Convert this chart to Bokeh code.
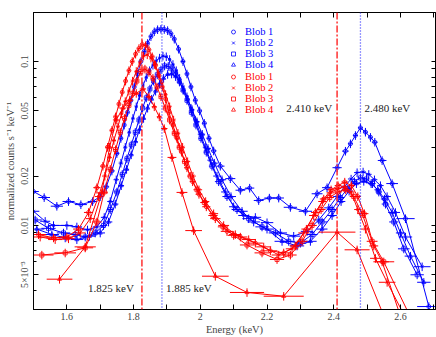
import numpy as np
from bokeh.plotting import figure
from bokeh.models import (Range1d, FixedTicker, LinearAxis, LogAxis, Span, Label,
                          Legend, LegendItem)
from bokeh.embed import file_html
from bokeh.resources import INLINE

# ---------------- data ----------------
series_names = ["Blob 1", "Blob 2", "Blob 3", "Blob 4"]

# blue spectra
blue_e1 = [1.500,1.532,1.570,1.605,1.642,1.677,1.700,1.718,1.735,1.750,1.762,1.772,1.782,1.792,1.802,1.812,1.822,1.832,1.842,1.852,1.862,1.872,1.882,1.892,1.902,1.912,1.922,1.935,1.948,1.960,1.972,1.985,1.998,2.012,2.026,2.040,2.060,2.090,2.120,2.148,2.175,2.207,2.235,2.270,2.315,2.350,2.380,2.410,2.435,2.450,2.465,2.480,2.495,2.510,2.523,2.545,2.575,2.615,2.685]
blue_f1 = [0.0161,0.0148,0.0131,0.0140,0.0134,0.0140,0.0150,0.0172,0.0215,0.0275,0.0340,0.0410,0.0490,0.0580,0.0700,0.0840,0.1000,0.1150,0.1290,0.1420,0.1520,0.1565,0.1575,0.1570,0.1545,0.1480,0.1370,0.1190,0.1000,0.0840,0.0700,0.0580,0.0500,0.0420,0.0340,0.0285,0.0230,0.0193,0.0164,0.0169,0.0142,0.0147,0.0147,0.0129,0.0122,0.0156,0.0170,0.0225,0.0284,0.0315,0.0354,0.0394,0.0371,0.0345,0.0322,0.0249,0.0180,0.0110,0.0032]

blue_e2 = [1.500,1.535,1.560,1.600,1.630,1.662,1.690,1.712,1.730,1.748,1.762,1.775,1.787,1.798,1.808,1.818,1.828,1.838,1.848,1.858,1.868,1.878,1.888,1.898,1.908,1.918,1.928,1.938,1.948,1.960,1.972,1.985,2.000,2.015,2.030,2.050,2.075,2.100,2.130,2.165,2.200,2.240,2.280,2.320,2.355,2.385,2.410,2.432,2.452,2.470,2.488,2.505,2.522,2.540,2.560,2.585,2.615,2.665]
blue_f2 = [0.0122,0.0106,0.0100,0.0100,0.0098,0.0094,0.0098,0.0112,0.0140,0.0190,0.0240,0.0300,0.0370,0.0450,0.0530,0.0620,0.0710,0.0800,0.0880,0.0950,0.1010,0.1050,0.1080,0.1070,0.1030,0.0960,0.0880,0.0790,0.0700,0.0610,0.0520,0.0440,0.0360,0.0300,0.0250,0.0200,0.0160,0.0130,0.0115,0.0112,0.0104,0.0090,0.0086,0.0092,0.0108,0.0128,0.0150,0.0172,0.0192,0.0210,0.0212,0.0205,0.0190,0.0175,0.0150,0.0120,0.0085,0.0056]

blue_e3 = [1.505,1.545,1.590,1.625,1.655,1.685,1.710,1.730,1.750,1.766,1.780,1.793,1.805,1.816,1.827,1.838,1.849,1.860,1.871,1.882,1.893,1.904,1.915,1.926,1.937,1.948,1.960,1.973,1.987,2.002,2.018,2.035,2.055,2.080,2.110,2.145,2.185,2.225,2.265,2.300,2.335,2.365,2.395,2.420,2.442,2.462,2.480,2.498,2.516,2.535,2.555,2.580,2.610,2.650]
blue_f3 = [0.0108,0.0096,0.0090,0.0088,0.0085,0.0090,0.0100,0.0125,0.0160,0.0205,0.0255,0.0310,0.0370,0.0440,0.0520,0.0600,0.0680,0.0760,0.0830,0.0890,0.0940,0.0935,0.0900,0.0840,0.0760,0.0670,0.0580,0.0490,0.0410,0.0340,0.0280,0.0230,0.0185,0.0150,0.0125,0.0110,0.0098,0.0090,0.0080,0.0078,0.0088,0.0105,0.0125,0.0148,0.0168,0.0185,0.0195,0.0192,0.0180,0.0160,0.0135,0.0105,0.0072,0.0050]

blue_e4 = [1.510,1.555,1.595,1.630,1.668,1.700,1.725,1.745,1.763,1.779,1.793,1.806,1.818,1.830,1.842,1.854,1.866,1.878,1.890,1.902,1.914,1.926,1.938,1.950,1.962,1.975,1.990,2.006,2.023,2.042,2.065,2.092,2.125,2.160,2.200,2.245,2.290,2.330,2.365,2.395,2.422,2.446,2.468,2.490,2.512,2.532,2.552,2.575,2.600,2.630,2.670]
blue_f4 = [0.0095,0.0088,0.0084,0.0082,0.0086,0.0090,0.0105,0.0135,0.0175,0.0220,0.0270,0.0325,0.0385,0.0450,0.0520,0.0590,0.0660,0.0730,0.0790,0.0835,0.0840,0.0810,0.0750,0.0670,0.0590,0.0510,0.0430,0.0360,0.0295,0.0240,0.0190,0.0150,0.0122,0.0105,0.0095,0.0080,0.0075,0.0080,0.0095,0.0115,0.0140,0.0162,0.0180,0.0186,0.0180,0.0165,0.0145,0.0120,0.0090,0.0065,0.0045]

# red spectra
red_e1 = [1.515,1.560,1.600,1.635,1.665,1.690,1.708,1.722,1.735,1.746,1.756,1.766,1.776,1.786,1.796,1.806,1.816,1.826,1.836,1.846,1.856,1.866,1.876,1.886,1.896,1.906,1.918,1.930,1.944,1.960,1.977,1.996,2.018,2.045,2.080,2.120,2.165,2.210,2.250,2.285,2.318,2.345,2.370,2.392,2.413,2.433,2.453,2.472,2.492,2.520,2.545,2.600]
red_f1 = [0.0088,0.0084,0.0085,0.0095,0.0120,0.0170,0.0230,0.0300,0.0380,0.0460,0.0550,0.0650,0.0760,0.0880,0.1000,0.1110,0.1200,0.1270,0.1250,0.1180,0.1070,0.0950,0.0820,0.0700,0.0590,0.0490,0.0410,0.0340,0.0280,0.0225,0.0185,0.0155,0.0130,0.0110,0.0092,0.0085,0.0078,0.0070,0.0068,0.0075,0.0095,0.0120,0.0145,0.0165,0.0175,0.0184,0.0175,0.0150,0.0118,0.0075,0.0060,0.0028]

red_e2 = [1.520,1.565,1.605,1.640,1.670,1.695,1.714,1.728,1.741,1.753,1.764,1.775,1.786,1.797,1.808,1.819,1.830,1.841,1.852,1.863,1.874,1.885,1.896,1.908,1.920,1.933,1.947,1.962,1.978,1.996,2.016,2.040,2.070,2.105,2.145,2.190,2.235,2.275,2.310,2.340,2.366,2.390,2.412,2.432,2.452,2.472,2.495,2.525,2.560,2.625]
red_f2 = [0.0085,0.0082,0.0083,0.0090,0.0110,0.0150,0.0200,0.0260,0.0330,0.0400,0.0480,0.0570,0.0660,0.0760,0.0870,0.0980,0.1080,0.1100,0.1050,0.0960,0.0850,0.0740,0.0630,0.0530,0.0440,0.0365,0.0300,0.0245,0.0200,0.0165,0.0140,0.0118,0.0100,0.0088,0.0082,0.0074,0.0066,0.0072,0.0090,0.0115,0.0140,0.0158,0.0168,0.0172,0.0160,0.0125,0.0095,0.0063,0.0045,0.0025]

red_e3 = [1.525,1.595,1.655,1.690,1.712,1.730,1.746,1.760,1.773,1.786,1.798,1.810,1.822,1.834,1.846,1.858,1.870,1.882,1.895,1.908,1.922,1.937,1.953,1.970,1.990,2.012,2.038,2.068,2.100,2.140,2.185,2.230,2.270,2.305,2.335,2.362,2.388,2.412,2.436,2.460,2.485,2.515,2.550,2.640]
red_f3 = [0.0066,0.0068,0.0073,0.0105,0.0160,0.0220,0.0290,0.0370,0.0450,0.0540,0.0640,0.0760,0.0870,0.0900,0.0860,0.0790,0.0700,0.0610,0.0520,0.0440,0.0365,0.0300,0.0245,0.0200,0.0165,0.0138,0.0115,0.0098,0.0087,0.0076,0.0068,0.0062,0.0066,0.0080,0.0100,0.0125,0.0148,0.0160,0.0165,0.0150,0.0118,0.0080,0.0060,0.0025]

red_e4 = [1.578,1.655,1.705,1.728,1.748,1.768,1.788,1.808,1.828,1.846,1.862,1.877,1.892,1.915,1.945,1.980,2.045,2.140,2.250,2.410,2.470,2.560]
red_f4 = [0.0047,0.0074,0.0158,0.0300,0.0440,0.0520,0.0580,0.0640,0.0680,0.0610,0.0530,0.0460,0.0390,0.0260,0.0159,0.0093,0.0049,0.0039,0.0037,0.0091,0.0071,0.0025]

# line energies marked in the plot
red_lines_kev = [1.825, 2.410]
blue_lines_kev = [1.885, 2.480]

# axis ticks
x_major = [1.6, 1.8, 2.0, 2.2, 2.4, 2.6]
x_minor = [1.5, 1.7, 1.9, 2.1, 2.3, 2.5, 2.7]
x_labels = ["1.6", "1.8", "2", "2.2", "2.4", "2.6"]
y_major = [0.005, 0.01, 0.02, 0.05, 0.1]
y_labels = ["5×10⁻³", "0.01", "0.02", "0.05", "0.1"]
y_minor = [0.003, 0.004, 0.006, 0.007, 0.008, 0.009, 0.03, 0.04, 0.06, 0.07, 0.08, 0.09, 0.2]

# ---------------- styling ----------------
FONT = "Liberation Serif"
BLUE = "#0000ff"
RED = "#ff0000"
MARKERS = ["circle", "x", "square", "triangle"]
YERR_FRAC = 0.06

p = figure(frame_width=402, frame_height=297,
           x_range=Range1d(1.5, 2.705), y_range=Range1d(0.00307, 0.199),
           y_axis_type="log", output_backend="svg", toolbar_location=None,
           min_border_left=33, min_border_right=1, min_border_top=12, min_border_bottom=28,
           background_fill_color="white", border_fill_color="white")
p.outline_line_color = "black"
p.grid.visible = False

xt = FixedTicker(ticks=x_major, minor_ticks=x_minor)
yt = FixedTicker(ticks=y_major, minor_ticks=y_minor)

xa = p.xaxis[0]
xa.ticker = xt
xa.major_label_overrides = dict(zip(x_major, x_labels))
xa.axis_label = "Energy (keV)"
ya = p.yaxis[0]
ya.ticker = yt
ya.major_label_overrides = dict(zip(y_major, y_labels))
ya.axis_label = "normalized counts s⁻¹ keV⁻¹"
ya.major_label_orientation = "vertical"

for ax in (xa, ya):
    ax.major_tick_in = 5
    ax.major_tick_out = 0
    ax.minor_tick_in = 3
    ax.minor_tick_out = 0
    ax.major_label_text_font = FONT
    ax.major_label_text_font_size = "10px"
    ax.axis_label_text_font = FONT
    ax.axis_label_text_font_size = "10.5px"
    ax.axis_label_text_font_style = "normal"
    ax.major_label_standoff = 3
    ax.axis_label_standoff = 1
    ax.axis_line_color = "black"
    ax.major_tick_line_color = "black"
    ax.minor_tick_line_color = "black"
xa.minor_tick_in = 5

# top and right frame ticks: tick marks only (all drawn as unlabeled minor ticks)
top_ticker = FixedTicker(ticks=[], minor_ticks=sorted(x_major + x_minor))
right_ticker = FixedTicker(ticks=[], minor_ticks=sorted(y_major + y_minor))
top = LinearAxis(ticker=top_ticker, minor_tick_in=5, minor_tick_out=0,
                 major_tick_in=0, major_tick_out=0, axis_label=None,
                 minor_tick_line_color="black", axis_line_color="black")
right = LogAxis(ticker=right_ticker, minor_tick_in=4, minor_tick_out=0,
                major_tick_in=0, major_tick_out=0, axis_label=None,
                minor_tick_line_color="black", axis_line_color="black")
p.add_layout(top, "above")
p.add_layout(right, "right")


def half_widths(e):
    e = np.asarray(e, dtype=float)
    d = np.empty_like(e)
    d[1:-1] = (e[2:] - e[:-2]) / 4.0
    d[0] = (e[1] - e[0]) / 2.0
    d[-1] = (e[-1] - e[-2]) / 2.0
    return np.clip(d, 0.005, 0.06)


def draw_series(e, f, color, marker):
    e = np.asarray(e, dtype=float)
    f = np.asarray(f, dtype=float)
    dx = half_widths(e)
    p.line(e, f, line_color=color, line_width=1)
    p.segment(e - dx, f, e + dx, f, line_color=color, line_width=1)
    p.segment(e, f * (1 - YERR_FRAC), e, f * (1 + YERR_FRAC), line_color=color, line_width=1)
    return p.scatter(e, f, marker=marker, size=4, line_color=color, fill_color=None,
                     line_width=0.8)


blue_sets = [(blue_e1, blue_f1), (blue_e2, blue_f2), (blue_e3, blue_f3), (blue_e4, blue_f4)]
red_sets = [(red_e1, red_f1), (red_e2, red_f2), (red_e3, red_f3), (red_e4, red_f4)]

blue_items, red_items = [], []
for name, (e, f), m in zip(series_names, blue_sets, MARKERS):
    r = draw_series(e, f, BLUE, m)
    blue_items.append(LegendItem(label=name, renderers=[r]))
for name, (e, f), m in zip(series_names, red_sets, MARKERS):
    r = draw_series(e, f, RED, m)
    red_items.append(LegendItem(label=name, renderers=[r]))

# vertical line markers and their labels
label_y_low = 0.00413
label_y_high = 0.0517
for e_line, y_lab, xo in zip(red_lines_kev, [label_y_low, label_y_high], [-8, -5]):
    p.add_layout(Span(location=e_line, dimension="height", line_color="#ff3030",
                      line_width=1.5, line_dash="7 2 2 2"))
    p.add_layout(Label(x=e_line, y=y_lab, x_offset=xo, text=f"{e_line:.3f} keV",
                       text_align="right", text_baseline="middle", text_font=FONT,
                       text_font_size="11px", text_color="#222222"))
for e_line, y_lab in zip(blue_lines_kev, [label_y_low, label_y_high]):
    p.add_layout(Span(location=e_line, dimension="height", line_color="#3030ff",
                      line_width=1.3, line_dash="1 2"))
    p.add_layout(Label(x=e_line, y=y_lab, x_offset=4, text=f"{e_line:.3f} keV",
                       text_align="left", text_baseline="middle", text_font=FONT,
                       text_font_size="11px", text_color="#222222"))

legend_style = dict(background_fill_alpha=0, border_line_alpha=0, padding=0, margin=0,
                    spacing=0, glyph_width=10, glyph_height=11, label_height=11,
                    label_standoff=7, label_text_font=FONT, label_text_font_size="10.5px")
leg_b = Legend(items=blue_items, location=(195, 239), label_text_color=BLUE, **legend_style)
leg_r = Legend(items=red_items, location=(195, 194), label_text_color=RED, **legend_style)
p.add_layout(leg_b)
p.add_layout(leg_r)

open("out.html", "w").write(file_html(p, INLINE))
